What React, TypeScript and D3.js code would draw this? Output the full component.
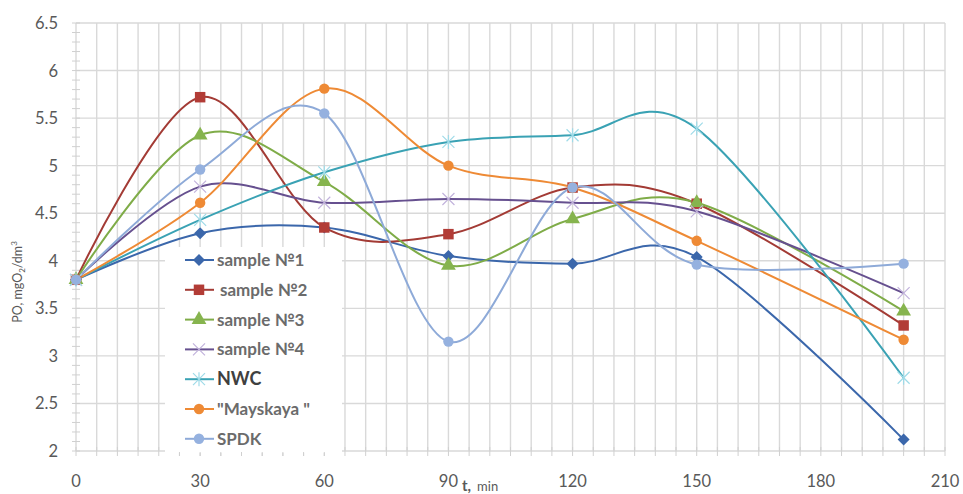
import React from "react";
import { scaleLinear, line, curveCardinal, range, symbol, symbolSquare, symbolTriangle, symbolCircle } from "d3";

// time points, min
const times = [0, 30, 60, 90, 120, 150, 200];

// PO, mgO2/dm3
const sample1 = [3.8, 4.29, 4.35, 4.05, 3.97, 4.04, 2.12];
const sample2 = [3.8, 5.72, 4.35, 4.28, 4.77, 4.6, 3.32];
const sample3 = [3.8, 5.32, 4.83, 3.95, 4.44, 4.61, 3.47];
const sample4 = [3.8, 4.78, 4.61, 4.65, 4.61, 4.52, 3.66];
const nwc = [3.8, 4.43, 4.93, 5.25, 5.32, 5.39, 2.77];
const mayskaya = [3.8, 4.61, 5.81, 5.0, 4.77, 4.21, 3.17];
const spdk = [3.8, 4.96, 5.55, 3.15, 4.77, 3.96, 3.97];

const xTicks = [0, 30, 60, 90, 120, 150, 180, 210];
const yTicks = [2, 2.5, 3, 3.5, 4, 4.5, 5, 5.5, 6, 6.5];

const series = [
  { name: "sample №1", values: sample1, color: "#3b67ab", marker: "diamond", mcolor: "#3b67ab" },
  { name: "sample №2", values: sample2, color: "#a33b35", marker: "square", mcolor: "#b23c36" },
  { name: "sample №3", values: sample3, color: "#7fac48", marker: "triangle", mcolor: "#86b44e" },
  { name: "sample №4", values: sample4, color: "#66508f", marker: "x", mcolor: "#c2b3dc" },
  { name: "NWC", values: nwc, color: "#3aa2b4", marker: "star", mcolor: "#9fdbe8" },
  { name: "\"Mayskaya \"", values: mayskaya, color: "#ee8a35", marker: "circle", mcolor: "#ee8a35" },
  { name: "SPDK", values: spdk, color: "#8eaad8", marker: "circle", mcolor: "#95b1df" },
];

const W = 963;
const H = 494;
const left = 76, right = 945, top = 23, bottom = 451;

function Marker({ type, x, y, color }: { type: string; x: number; y: number; color: string }) {
  if (type === "x") {
    return (
      <path d="M-6,-6L6,6M-6,6L6,-6" transform={`translate(${x},${y})`} stroke={color} strokeWidth={1.2} fill="none" />
    );
  }
  if (type === "star") {
    return (
      <path d="M-6,-6L6,6M-6,6L6,-6M0,-7L0,7" transform={`translate(${x},${y})`} stroke={color} strokeWidth={1.2} fill="none" />
    );
  }
  if (type === "diamond") {
    const d = symbol(symbolSquare, 72)() || "";
    return <path d={d} transform={`translate(${x},${y}) rotate(45)`} fill={color} />;
  }
  const t = type === "square" ? symbolSquare : type === "triangle" ? symbolTriangle : symbolCircle;
  const size = type === "square" ? 110 : type === "triangle" ? 95 : 85;
  const d = symbol(t, size)() || "";
  return <path d={d} transform={`translate(${x},${y})`} fill={color} />;
}

export default function App() {
  const x = scaleLinear().domain([0, 210]).range([left, right]);
  const y = scaleLinear().domain([2, 6.5]).range([bottom, top]);

  const gen = line<number>()
    .x((_, i) => x(times[i]))
    .y((d) => y(d))
    .curve(curveCardinal);

  const fine = range(0, 211, 5);
  const yMinor = range(20, 66, 1).map((v) => v / 10);

  const legendX = 185;
  const legendY0 = 260;
  const legendStep = 29.8;

  return (
    <svg width={W} height={H} style={{ position: "absolute", left: 0, top: 0, background: "#fff" }} fontFamily="Lato, 'Open Sans', sans-serif">
      {/* grid */}
      <g stroke="#d9d9d9" strokeWidth={1.4}>
        {fine.map((v) => (
          <line key={"v" + v} x1={x(v)} x2={x(v)} y1={top} y2={bottom} />
        ))}
        {yTicks.map((v) => (
          <line key={"h" + v} x1={left} x2={right} y1={y(v)} y2={y(v)} />
        ))}
      </g>
      {/* minor ticks */}
      <g stroke="#d0d0d0" strokeWidth={1}>
        {yMinor.map((v) => (
          <line key={"ym" + v} x1={left - 4} x2={left + 4} y1={y(v)} y2={y(v)} />
        ))}
        {fine.map((v) => (
          <line key={"xm" + v} x1={x(v)} x2={x(v)} y1={bottom - 4} y2={bottom + 5} />
        ))}
      </g>
      {/* y tick labels */}
      <g fill="#595959" fontSize={16.5} textAnchor="end">
        {yTicks.map((v) => (
          <text key={"yl" + v} x={58} y={y(v) + 6}>
            {v}
          </text>
        ))}
      </g>
      {/* x tick labels */}
      <g fill="#595959" fontSize={16.5} textAnchor="middle">
        {xTicks.map((v) => (
          <text key={"xl" + v} x={x(v)} y={487}>
            {v}
          </text>
        ))}
      </g>
      <text x={462} y={491} fill="#595959" fontSize={15}>
        <tspan fontWeight="bold">t,</tspan>
        <tspan dx={6} fontSize={13}>min</tspan>
      </text>
      <text transform="translate(22,282) rotate(-90)" textAnchor="middle" fill="#595959" fontSize={12.5}>
        PO, mgO<tspan fontSize={8} dy={3}>2</tspan>
        <tspan dy={-3}>/dm</tspan>
        <tspan fontSize={8} dy={-5}>3</tspan>
      </text>
      {/* series */}
      {series.map((s) => (
        <path key={s.name} d={gen(s.values) || ""} fill="none" stroke={s.color} strokeWidth={2} />
      ))}
      {series.map((s) =>
        s.values.map((v, i) => (
          <Marker key={s.name + i} type={s.marker} x={x(times[i])} y={y(v)} color={s.mcolor} />
        ))
      )}
      {/* legend */}
      <rect x={165} y={247} width={177} height={206} fill="#fff" />
      <g stroke="#d0d0d0" strokeWidth={1}>
        {fine
          .filter((v) => x(v) > 165 && x(v) < 342)
          .map((v) => (
            <line key={"lm" + v} x1={x(v)} x2={x(v)} y1={bottom + 1} y2={bottom + 5} />
          ))}
      </g>
      {series.map((s, i) => {
        const ly = legendY0 + i * legendStep;
        return (
          <g key={"lg" + s.name}>
            <line x1={legendX} x2={legendX + 29} y1={ly} y2={ly} stroke={s.color} strokeWidth={2} />
            <Marker type={s.marker} x={legendX + 14} y={ly} color={s.mcolor} />
            <text
              x={s.name === "sample №2" ? legendX + 35 : legendX + 32}
              y={ly + 6}
              fill={s.name === "NWC" ? "#404040" : "#6b6b6b"}
              fontSize={s.name === "NWC" ? 18 : 17}
              fontWeight="bold"
            >
              {s.name}
            </text>
          </g>
        );
      })}
    </svg>
  );
}
